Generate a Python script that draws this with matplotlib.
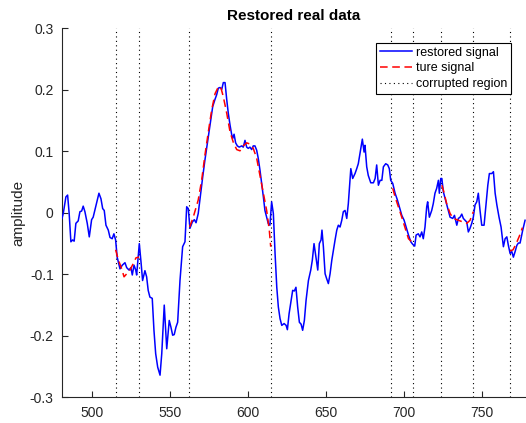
import matplotlib
matplotlib.use("Agg")
import matplotlib.pyplot as plt
from matplotlib.ticker import FixedLocator, FixedFormatter

plt.rcParams['font.family'] = ['Liberation Sans', 'DejaVu Sans']
plt.rcParams['axes.unicode_minus'] = False

# restored signal
restored_x = [480.6, 481.4, 483.1, 484.2, 485.2, 486.3, 487.4, 488.4, 489.5, 491, 492.1, 493.2, 494.2, 495.3,
              496.8, 498.1, 499.6, 500.6, 502.2, 504.3, 505.6, 506.7, 507.7, 508.8, 510.3, 511.4, 512.8, 513.9,
              515, 516, 517.8, 519.3, 521, 522.1, 523.6, 524.8, 525.7, 526.8, 527.9, 528.5, 529.5, 530.2, 531.3,
              532.3, 533.8, 534.9, 535.9, 537, 538.5, 539.6, 540.7, 542, 543.5, 544.6, 546.2, 547.8, 549.4, 550.5,
              551.6, 552.6, 553.7, 554.8, 556.3, 558, 559.5, 560.6, 561.6, 562.7, 564.2, 565.5, 566.6, 568, 569.6,
              570.9, 572.3, 573.4, 574.7, 576, 577.3, 578.8, 579.8, 580.9, 582, 583.1, 584.1, 585.2, 586.3, 587.3,
              588.4, 589.5, 590.1, 591, 592, 593.1, 594.3, 595.9, 596.9, 598, 599.1, 600.1, 601.2, 602.3, 603.3,
              604.4, 605.5, 606.5, 607.6, 608.7, 609.8, 610.8, 611.9, 612.9, 614, 615.1, 616.2, 617.3, 618.4, 619.4,
              620.5, 621.6, 623.1, 624.4, 625.2, 626.3, 627.6, 628.6, 629.7, 630.7, 631.8, 632.9, 634, 635, 636.1,
              637.2, 638.7, 640.2, 641.2, 642.3, 643.6, 644.7, 645.7, 646.8, 647.4, 648.3, 649.4, 650.4, 651.5,
              652.6, 653.7, 654.7, 655.8, 656.9, 657.9, 659, 660.1, 661.1, 662.2, 663.3, 664.3, 665.9, 667.1, 668.6,
              669.7, 670.7, 671.8, 673.3, 674.4, 675, 676.1, 677.1, 678.7, 680.4, 681.5, 682.5, 683.6, 684.7, 685.8,
              686.8, 688.3, 689.6, 690.6, 691.5, 692.8, 694.3, 695.8, 697, 698.6, 700.1, 701.4, 702.9, 704.4, 705.6,
              706.9, 707.8, 709.2, 710.3, 711.4, 712.4, 713.5, 714.6, 715.2, 716.3, 717.8, 718.8, 719.9, 721, 722.1,
              722.7, 723.6, 724.3, 725.3, 727, 728.5, 729.6, 731.3, 732.4, 733.9, 734.9, 736, 737.1, 738.1, 739.2,
              740.3, 741.3, 742.4, 743.5, 744.5, 745.6, 746.7, 747.7, 748.8, 749.9, 751.4, 752.7, 753.8, 754.8,
              756.3, 757.4, 758.5, 759.6, 761, 762.3, 763.8, 764.9, 766, 767, 768.1, 769.2, 770.2, 771.3, 772.4,
              773.4, 774.5, 776.2, 777.7]
restored_y = [-0.009, -0.001, 0.026, 0.029, -0.001, -0.047, -0.044, -0.046, -0.017, -0.013, 0.002, 0.003, 0.011, 0.002,
              -0.017, -0.039, -0.011, -0.007, 0.010, 0.032, 0.023, 0.007, 0.004, -0.020, -0.028, -0.040, -0.042, -0.034,
              -0.044, -0.072, -0.091, -0.085, -0.081, -0.089, -0.093, -0.089, -0.101, -0.085, -0.093, -0.101, -0.072,
              -0.050, -0.080, -0.110, -0.094, -0.104, -0.126, -0.137, -0.139, -0.191, -0.229, -0.251, -0.264, -0.229,
              -0.150, -0.221, -0.175, -0.186, -0.199, -0.198, -0.186, -0.178, -0.110, -0.055, -0.047, 0.010, 0.007,
              -0.025, -0.015, -0.011, -0.016, -0.001, 0.032, 0.059, 0.086, 0.105, 0.127, 0.151, 0.173, 0.185, 0.192,
              0.203, 0.204, 0.201, 0.212, 0.212, 0.184, 0.162, 0.143, 0.127, 0.121, 0.128, 0.114, 0.109, 0.107, 0.109,
              0.107, 0.118, 0.107, 0.105, 0.107, 0.103, 0.109, 0.109, 0.102, 0.089, 0.070, 0.048, 0.026, 0.004, -0.007,
              -0.017, -0.020, 0.018, -0.001, -0.066, -0.121, -0.153, -0.172, -0.183, -0.180, -0.183, -0.190, -0.164,
              -0.142, -0.126, -0.127, -0.121, -0.153, -0.178, -0.181, -0.191, -0.175, -0.142, -0.110, -0.093, -0.077,
              -0.050, -0.074, -0.093, -0.050, -0.044, -0.028, -0.055, -0.099, -0.107, -0.115, -0.099, -0.077, -0.061,
              -0.044, -0.028, -0.020, -0.023, -0.012, 0.002, 0.004, -0.009, 0.015, 0.072, 0.056, 0.064, 0.072, 0.080,
              0.097, 0.120, 0.099, 0.110, 0.075, 0.061, 0.049, 0.049, 0.056, 0.078, 0.045, 0.053, 0.053, 0.075, 0.080,
              0.078, 0.072, 0.053, 0.048, 0.032, 0.021, 0.010, -0.004, -0.012, -0.023, -0.036, -0.047, -0.051, -0.054,
              -0.036, -0.034, -0.039, -0.031, -0.042, -0.023, 0.010, 0.018, -0.007, 0.004, 0.015, 0.032, 0.040, 0.053,
              0.032, 0.056, 0.056, 0.034, 0.018, 0.004, -0.007, -0.009, -0.004, -0.020, -0.009, -0.007, -0.002, -0.009,
              -0.012, -0.015, -0.031, -0.025, -0.017, -0.007, 0.013, 0.018, 0.032, 0.004, -0.020, -0.020, 0.015, 0.045,
              0.064, 0.064, 0.067, 0.032, 0.013, -0.007, -0.023, -0.055, -0.042, -0.039, -0.053, -0.066, -0.063,
              -0.072, -0.063, -0.053, -0.049, -0.049, -0.028, -0.012]

# true signal, only inside the corrupted regions
true_x = [
    [515, 516.7, 518.9, 520.4, 522.5, 524.2, 526, 528.1, 530],
    [562.5, 564.8, 568, 570.2, 572.3, 574.5, 576.6, 578.8, 580.9, 582.4, 584.1, 586.3, 588.4, 590.6, 592.7,
     594.8, 596.9, 599.1, 601.2, 603.3, 605.5, 607.6, 609.8, 611.9, 613.6, 614.5],
    [692.8, 694.3, 696.4, 698.6, 700.8, 702.9, 705, 706.5],
    [724.3, 725.3, 727.4, 729.6, 731.7, 734.9, 738.1, 740.3, 742.4, 744.5],
    [768, 770, 772, 774, 776],
]
true_y = [
    [-0.060, -0.076, -0.091, -0.104, -0.098, -0.093, -0.084, -0.073, -0.072],
    [-0.023, -0.007, 0.021, 0.053, 0.094, 0.132, 0.167, 0.194, 0.205, 0.205, 0.189, 0.162, 0.132, 0.114, 0.103,
     0.101, 0.109, 0.114, 0.112, 0.105, 0.089, 0.061, 0.032, 0.004, -0.028, -0.055],
    [0.040, 0.026, 0.010, -0.007, -0.025, -0.042, -0.047, -0.045],
    [0.045, 0.037, 0.015, -0.001, -0.009, -0.012, -0.015, -0.017, -0.012, 0.002],
    [-0.062, -0.060, -0.050, -0.038, -0.024],
]

region_bounds = [515, 530, 562, 615, 692, 706, 724, 744, 768]

x_ticks = [500, 550, 600, 650, 700, 750]
y_ticks = [-0.3, -0.2, -0.1, 0, 0.1, 0.2, 0.3]
y_tick_labels = ['-0.3', '-0.2', '-0.1', '0', '0.1', '0.2', '0.3']

fig = plt.figure(figsize=(5.26, 4.23), dpi=100)
ax = fig.add_axes([62 / 526, 1 - 397.3 / 423, (526 - 62) / 526, (397.3 - 28.5) / 423])

ax.plot(restored_x, restored_y, color=(0, 0, 1), lw=1.1, label='restored signal', zorder=3)
for i, (tx, ty) in enumerate(zip(true_x, true_y)):
    ax.plot(tx, ty, color=(1, 0, 0), lw=1.1, dashes=(5, 3), label='ture signal' if i == 0 else None, zorder=4)
for i, xb in enumerate(region_bounds):
    ax.axvline(xb, color='k', lw=0.8, ls=(0, (1, 3)), label='corrupted region' if i == 0 else None, zorder=2)

ax.set_xlim(480.6, 778.3)
ax.set_ylim(-0.3, 0.3)
ax.xaxis.set_major_locator(FixedLocator(x_ticks))
ax.yaxis.set_major_locator(FixedLocator(y_ticks))
ax.yaxis.set_major_formatter(FixedFormatter(y_tick_labels))

ax.spines['top'].set_visible(False)
ax.spines['right'].set_visible(False)
for s in ('left', 'bottom'):
    ax.spines[s].set_color('#262626')
    ax.spines[s].set_linewidth(0.8)
ax.tick_params(direction='in', length=4, width=0.8, colors='#262626', labelsize=10, pad=6)

ax.set_title('Restored real data', fontsize=11, fontweight='bold', pad=6)
ax.set_ylabel('amplitude', fontsize=11, color='#262626')
ax.yaxis.set_label_coords(-0.078, 0.5)

leg = ax.legend(loc='upper right', bbox_to_anchor=(0.968, 0.961), fontsize=9, frameon=True,
                fancybox=False, framealpha=1, edgecolor='k', handlelength=2.6, handletextpad=0.3,
                borderpad=0.3, labelspacing=0.3, borderaxespad=0)
leg.get_frame().set_linewidth(0.8)

fig.savefig('out.png', dpi=100)
